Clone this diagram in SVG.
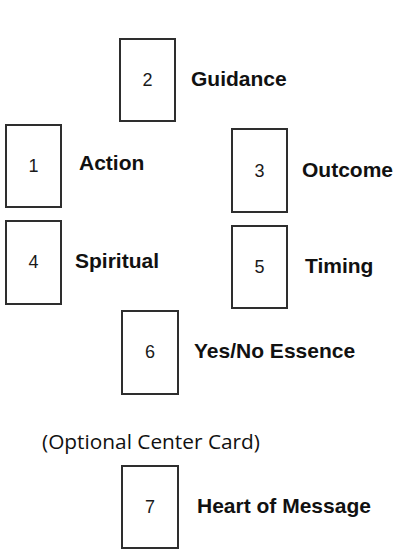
<svg xmlns="http://www.w3.org/2000/svg" width="395" height="552" viewBox="0 0 395 552">
<style>
.card{fill:#fff;stroke:#2e2e2e;stroke-width:2}
.num{font-family:"Liberation Sans",Arial,sans-serif;font-size:18px;fill:#1a1a1a;text-anchor:middle}
.lbl{font-family:"Liberation Sans",Arial,sans-serif;font-size:21px;font-weight:bold;fill:#111}
.note{font-family:"Open Sans","Noto Sans",sans-serif;font-size:20px;fill:#111}
</style>
<rect width="395" height="552" fill="#fff"/>
<g id="connectors"></g>
<g id="card1"><rect class="card" x="6" y="125" width="55" height="82"/><text class="num" x="33.5" y="172">1</text><text class="lbl" x="79" y="170">Action</text></g>
<g id="card2"><rect class="card" x="120" y="39" width="55" height="82"/><text class="num" x="147.5" y="86">2</text><text class="lbl" x="191" y="86">Guidance</text></g>
<g id="card3"><rect class="card" x="232" y="129" width="55" height="83"/><text class="num" x="259.5" y="177">3</text><text class="lbl" x="302" y="177">Outcome</text></g>
<g id="card4"><rect class="card" x="6" y="221" width="55" height="83"/><text class="num" x="33.5" y="268">4</text><text class="lbl" x="75" y="268">Spiritual</text></g>
<g id="card5"><rect class="card" x="232" y="226" width="55" height="82"/><text class="num" x="259.5" y="273">5</text><text class="lbl" x="305" y="273">Timing</text></g>
<g id="card6"><rect class="card" x="122" y="311" width="56" height="83"/><text class="num" x="150" y="358">6</text><text class="lbl" x="194" y="358">Yes/No Essence</text></g>
<text class="note" x="42" y="449" textLength="218" lengthAdjust="spacingAndGlyphs">(Optional Center Card)</text>
<g id="card7"><rect class="card" x="122" y="466" width="56" height="82"/><text class="num" x="150" y="513">7</text><text class="lbl" x="197" y="513">Heart of Message</text></g>
</svg>
